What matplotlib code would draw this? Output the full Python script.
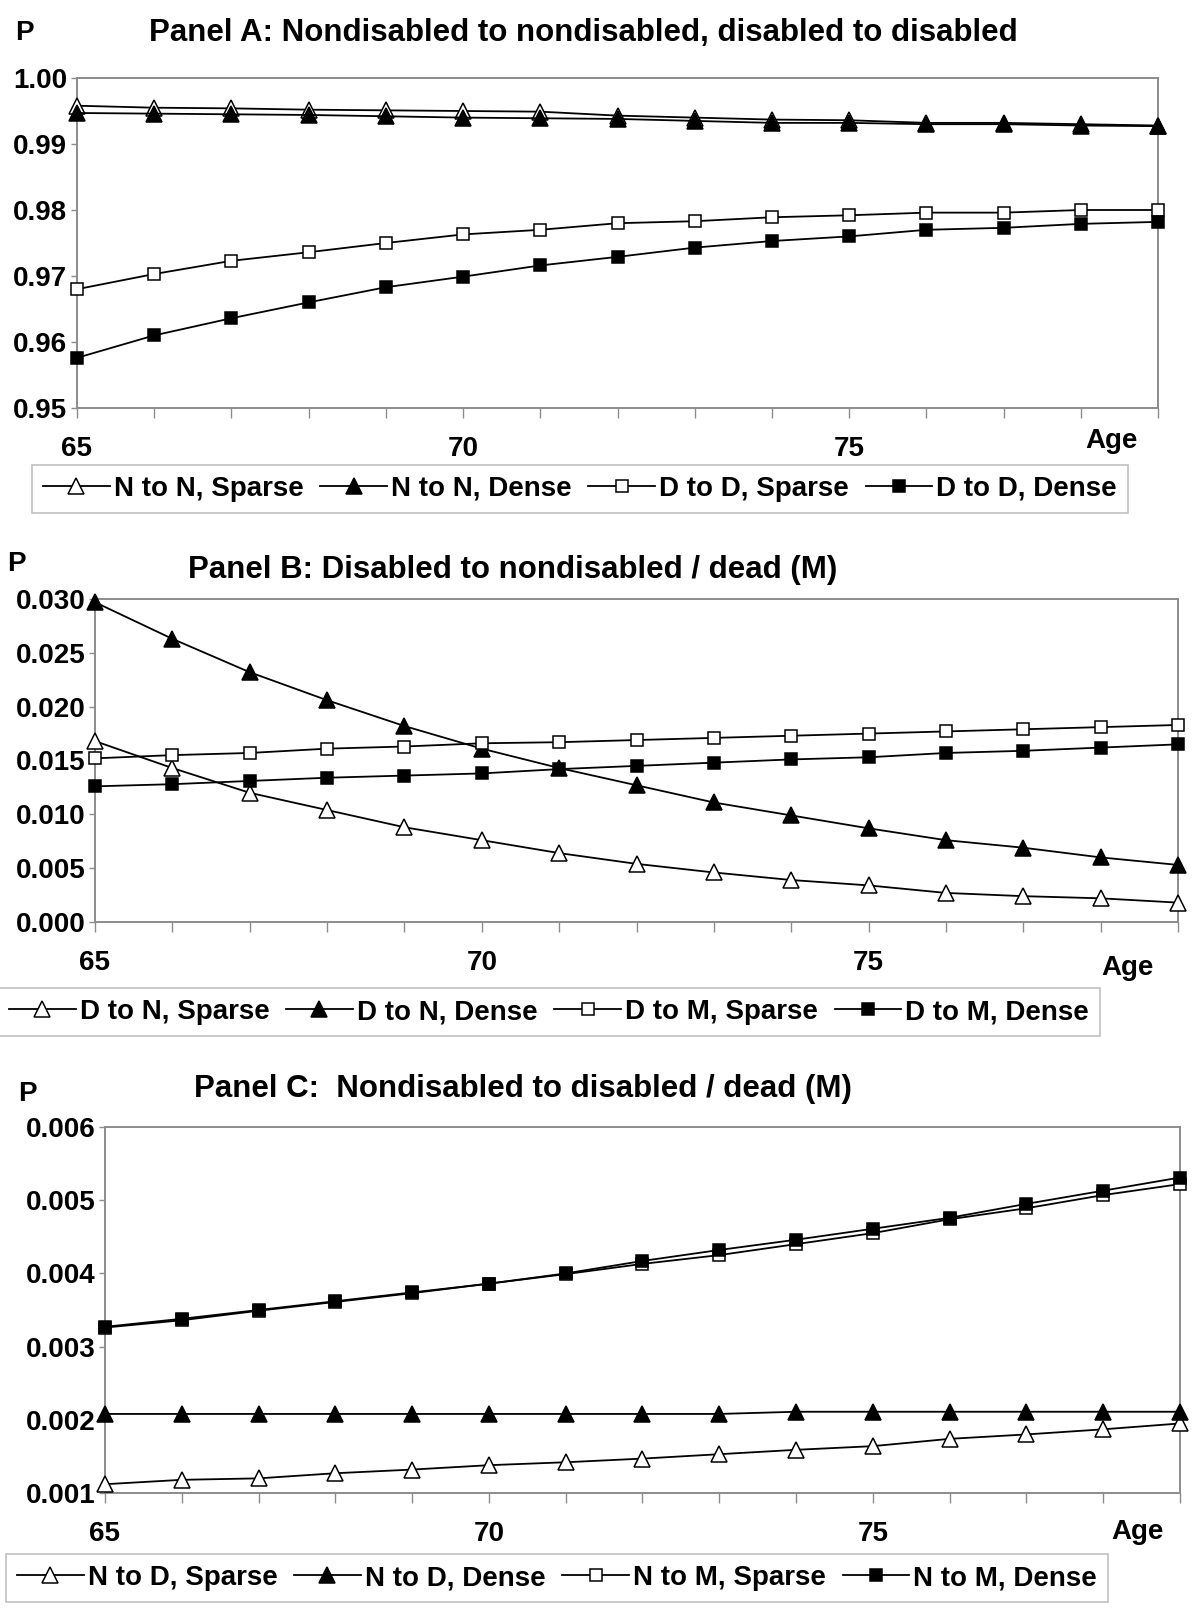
import matplotlib

matplotlib.use("Agg")
import matplotlib.pyplot as plt

plt.rcParams["font.family"] = ["Liberation Sans", "DejaVu Sans"]
plt.rcParams["font.weight"] = "bold"

ages = [65, 66, 67, 68, 69, 70, 71, 72, 73, 74, 75, 76, 77, 78, 79]
age_labels = ["65", "", "", "", "", "70", "", "", "", "", "75", "", "", "", ""]

# Panel A: staying in the same state
a_nn_sparse = [0.9958, 0.9955, 0.9954, 0.9952, 0.9951, 0.9950, 0.9949, 0.9943, 0.9940,
               0.9937, 0.9936, 0.9932, 0.9932, 0.9930, 0.9928]
a_nn_dense = [0.9947, 0.9946, 0.9945, 0.9944, 0.9942, 0.9940, 0.9939, 0.9938, 0.9935,
              0.9932, 0.9932, 0.9930, 0.9930, 0.9928, 0.9927]
a_dd_sparse = [0.9680, 0.9703, 0.9723, 0.9736, 0.9750, 0.9763, 0.9770, 0.9780, 0.9783,
               0.9789, 0.9792, 0.9796, 0.9796, 0.9800, 0.9800]
a_dd_dense = [0.9576, 0.9610, 0.9636, 0.9660, 0.9683, 0.9699, 0.9716, 0.9729, 0.9743,
              0.9753, 0.9760, 0.9770, 0.9773, 0.9779, 0.9782]

# Panel B: disabled to nondisabled / dead
b_dn_sparse = [0.0168, 0.0143, 0.0120, 0.0104, 0.0088, 0.0076, 0.0064, 0.0054, 0.0046,
               0.0039, 0.0034, 0.0027, 0.0024, 0.0022, 0.0018]
b_dn_dense = [0.0297, 0.0263, 0.0232, 0.0206, 0.0182, 0.0161, 0.0143, 0.0127, 0.0111,
              0.0099, 0.0087, 0.0076, 0.0069, 0.0060, 0.0053]
b_dm_sparse = [0.0152, 0.0155, 0.0157, 0.0161, 0.0163, 0.0166, 0.0167, 0.0169, 0.0171,
               0.0173, 0.0175, 0.0177, 0.0179, 0.0181, 0.0183]
b_dm_dense = [0.0126, 0.0128, 0.0131, 0.0134, 0.0136, 0.0138, 0.0142, 0.0145, 0.0148,
              0.0151, 0.0153, 0.0157, 0.0159, 0.0162, 0.0165]

# Panel C: nondisabled to disabled / dead
c_nd_sparse = [0.00112, 0.00118, 0.00120, 0.00127, 0.00132, 0.00138, 0.00142, 0.00147, 0.00153,
               0.00159, 0.00164, 0.00174, 0.00180, 0.00187, 0.00195]
c_nd_dense = [0.00208, 0.00208, 0.00208, 0.00208, 0.00208, 0.00208, 0.00208, 0.00208, 0.00208,
              0.00211, 0.00211, 0.00211, 0.00211, 0.00211, 0.00211]
c_nm_sparse = [0.00326, 0.00336, 0.00349, 0.00361, 0.00373, 0.00386, 0.00399, 0.00413, 0.00425,
               0.00440, 0.00455, 0.00474, 0.00489, 0.00507, 0.00522]
c_nm_dense = [0.00327, 0.00338, 0.00350, 0.00362, 0.00374, 0.00386, 0.00400, 0.00417, 0.00432,
              0.00446, 0.00461, 0.00476, 0.00495, 0.00513, 0.00531]

FS = 20
TITLE_FS = 22.5
GRAY = "#8c8c8c"
W, H = 1200, 1612


def px_rect(x0, y0, x1, y1):
    return [x0 / W, 1 - y1 / H, (x1 - x0) / W, (y1 - y0) / H]


def draw_panel(fig, rect, series, labels, ylim, yticks, yfmt, title, title_xy, p_xy, age_xy, legend_xy):
    ax = fig.add_axes(px_rect(*rect))
    styles = [("^", "white", 11), ("^", "black", 11), ("s", "white", 8.5), ("s", "black", 8.5)]
    for vals, lab, (mk, face, ms) in zip(series, labels, styles):
        ax.plot(ages, vals, color="black", linewidth=1.3, marker=mk, markersize=ms,
                markerfacecolor=face, markeredgecolor="black", markeredgewidth=1.1,
                label=lab, clip_on=False, zorder=3)
    ax.set_xlim(65, 79)
    ax.set_ylim(*ylim)
    ax.set_xticks(ages)
    ax.set_xticklabels(age_labels)
    ax.set_yticks(yticks)
    ax.set_yticklabels([yfmt.format(v) for v in yticks])
    for spine in ax.spines.values():
        spine.set_color(GRAY)
        spine.set_linewidth(1.4)
    ax.tick_params(axis="x", direction="out", length=7, width=1.0, color=GRAY, pad=13, labelsize=FS)
    ax.tick_params(axis="y", direction="out", length=4, width=1.0, color=GRAY, pad=3, labelsize=FS)
    for lab in ax.get_xticklabels() + ax.get_yticklabels():
        lab.set_fontweight("bold")

    fig.text(title_xy[0] / W, 1 - title_xy[1] / H, title, ha="center", va="center",
             fontsize=TITLE_FS, fontweight="bold")
    fig.text(p_xy[0] / W, 1 - p_xy[1] / H, "P", ha="center", va="center", fontsize=FS, fontweight="bold")
    fig.text(age_xy[0] / W, 1 - age_xy[1] / H, "Age", ha="center", va="center", fontsize=FS, fontweight="bold")

    leg = fig.legend(handles=ax.get_lines(), loc="center", ncol=4,
                     bbox_to_anchor=(legend_xy[0] / W, 1 - legend_xy[1] / H),
                     fontsize=FS, frameon=True, fancybox=False, handlelength=2.4,
                     handletextpad=0.15, columnspacing=0.6, borderpad=0.4)
    leg.get_frame().set_edgecolor("#b0b0b0")
    leg.get_frame().set_linewidth(1.2)
    for t in leg.get_texts():
        t.set_fontweight("bold")
    return ax


fig = plt.figure(figsize=(12, 16.12), dpi=100)

draw_panel(fig, (77, 78, 1158, 408),
           [a_nn_sparse, a_nn_dense, a_dd_sparse, a_dd_dense],
           ["N to N, Sparse", "N to N, Dense", "D to D, Sparse", "D to D, Dense"],
           (0.95, 1.00), [0.95, 0.96, 0.97, 0.98, 0.99, 1.00], "{:.2f}",
           "Panel A: Nondisabled to nondisabled, disabled to disabled",
           (583, 33), (24, 33), (1111, 441), (580, 489))

draw_panel(fig, (95, 599, 1178, 922),
           [b_dn_sparse, b_dn_dense, b_dm_sparse, b_dm_dense],
           ["D to N, Sparse", "D to N, Dense", "D to M, Sparse", "D to M, Dense"],
           (0.0, 0.030), [0.0, 0.005, 0.010, 0.015, 0.020, 0.025, 0.030], "{:.3f}",
           "Panel B: Disabled to nondisabled / dead (M)",
           (513, 570), (16, 564), (1128, 968), (549, 1012))

draw_panel(fig, (105, 1127, 1180, 1493),
           [c_nd_sparse, c_nd_dense, c_nm_sparse, c_nm_dense],
           ["N to D, Sparse", "N to D, Dense", "N to M, Sparse", "N to M, Dense"],
           (0.001, 0.006), [0.001, 0.002, 0.003, 0.004, 0.005, 0.006], "{:.3f}",
           "Panel C:  Nondisabled to disabled / dead (M)",
           (523, 1089), (27, 1094), (1138, 1532), (557, 1578))

fig.savefig("out.png", dpi=100)
